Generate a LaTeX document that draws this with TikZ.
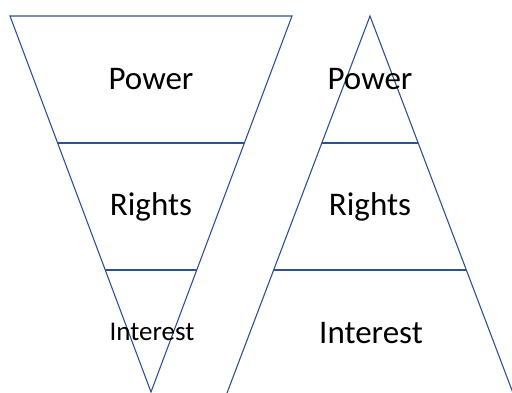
\documentclass[tikz,border=0pt]{standalone}
\usepackage{fontspec}
\setmainfont{Carlito}
\definecolor{edge}{RGB}{47,82,143}
\tikzset{
  shape line/.style={draw=edge, line width=1.1pt, line join=miter},
  lab/.style={anchor=base, inner sep=0pt, font=\fontsize{33}{36}\selectfont},
  smalllab/.style={anchor=base, inner sep=0pt, font=\fontsize{27}{30}\selectfont}
}
\begin{document}
\begin{tikzpicture}[x=1pt, y=-1pt]
\useasboundingbox (0,0) rectangle (512,393);
% inverted triangle (left)
\coordinate (LTL) at (10,16);
\coordinate (LTR) at (292,16);
\coordinate (LA) at (151,392);
\draw[shape line] (LTL) -- (LTR) -- (LA) -- cycle;
\draw[shape line] (57.6,143) -- (244.4,143);
\draw[shape line] (105.3,270) -- (196.7,270);
% upright triangle (right)
\coordinate (RA) at (370,16);
\coordinate (RBL) at (227,393);
\coordinate (RBR) at (513,393);
\draw[shape line] (RBL) -- (RA) -- (RBR);
\draw[shape line] (321.8,143) -- (418.2,143);
\draw[shape line] (273.7,270) -- (466.3,270);
% labels
\node[lab] (p1) at (151,90) {Power};
\node[lab] (r1) at (151,215) {Rights};
\node[smalllab] (i1) at (152,340) {Interest};
\node[lab] (p2) at (370,90) {Power};
\node[lab] (r2) at (370,215) {Rights};
\node[lab] (i2) at (371,343) {Interest};
\end{tikzpicture}
\end{document}
